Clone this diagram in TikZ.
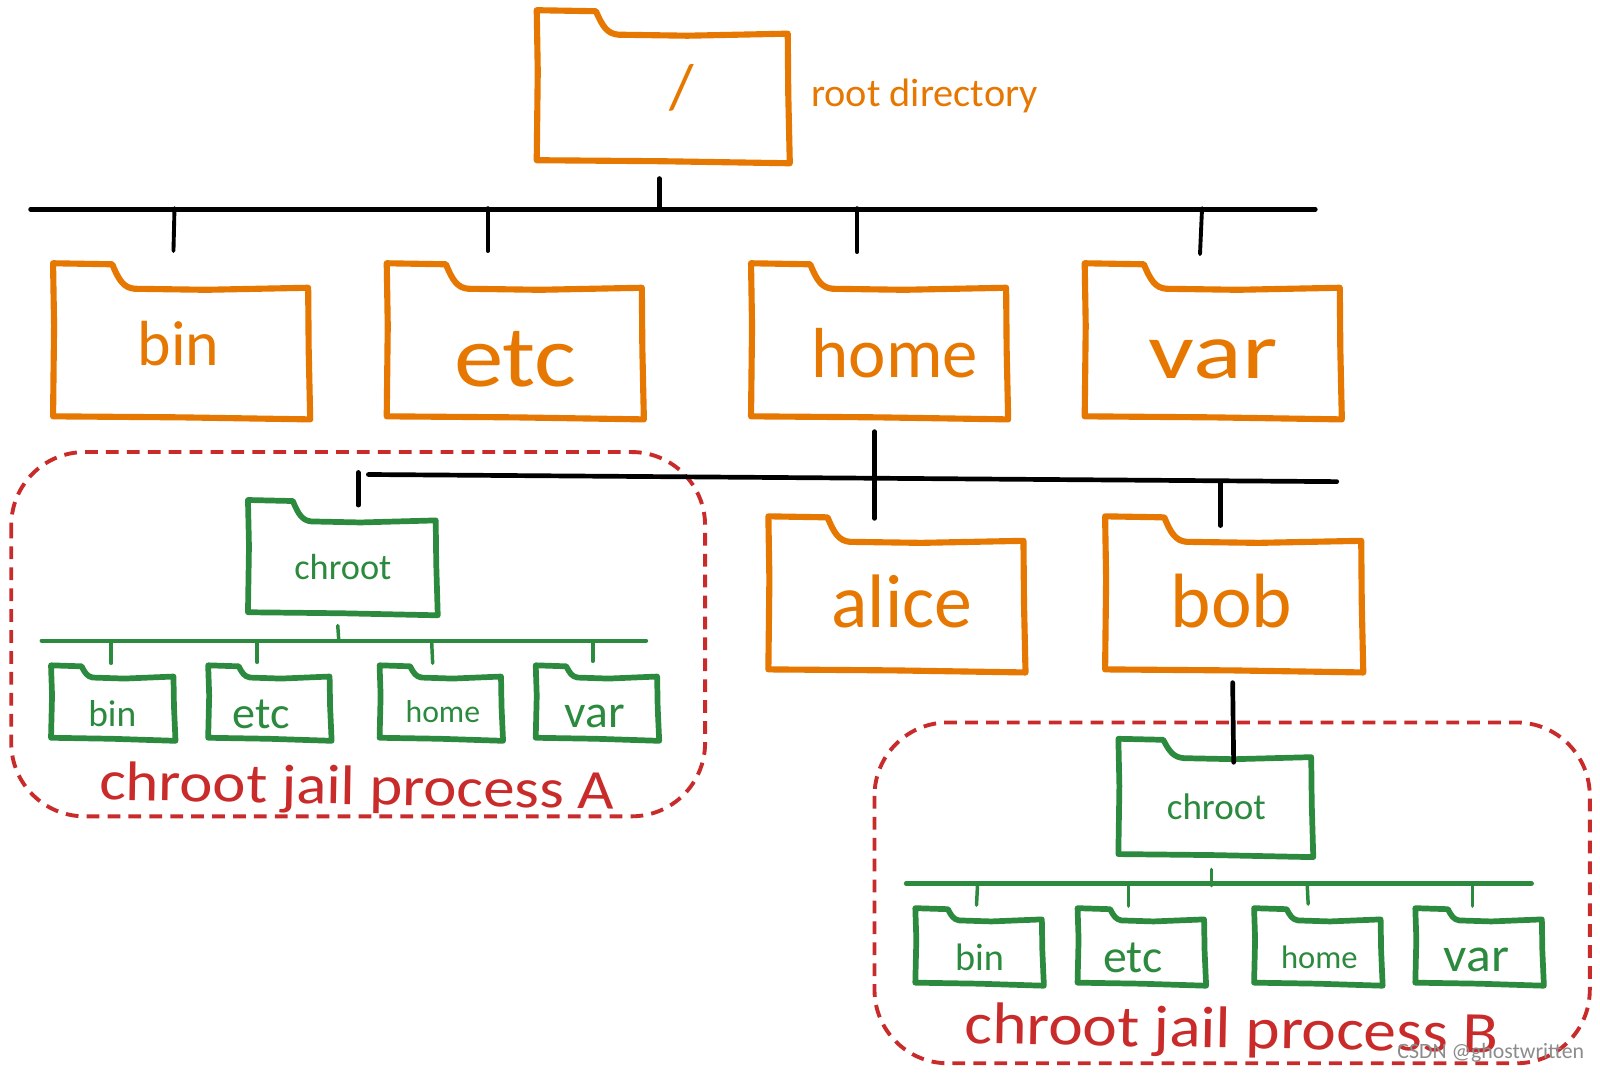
\documentclass[tikz,border=0pt]{standalone}
\usepackage{fontspec}
\usepackage{graphicx}
\setmainfont{Carlito}
\definecolor{foldorange}{HTML}{E67700}
\definecolor{jailgreen}{HTML}{2B8A3E}
\definecolor{jailred}{HTML}{C92A2A}
\tikzset{
  fo/.style={draw=foldorange,line width=6pt,line join=round,line cap=round},
  fg/.style={draw=jailgreen,line width=5.6pt,line join=round,line cap=round},
  bk/.style={draw=black,line width=4.6pt,line cap=round},
  bkthin/.style={draw=black,line width=3.8pt,line cap=round},
  gbus/.style={draw=jailgreen,line width=4.4pt,line cap=round},
  gstub/.style={draw=jailgreen,line width=3.4pt,line cap=round},
  jail/.style={draw=jailred,line width=3.8pt,dash pattern=on 12.5pt off 8pt,rounded corners=72pt},
  lab/.style={inner sep=0pt,outer sep=0pt,anchor=center},
}
% name x0 y0 W H tab slant drop style
\newcommand{\folder}[9]{%
  \coordinate (#1) at (#2,#3);
  \begin{scope}[shift={(#1)}]
    \draw[#9] (0,0) -- (#6,1)
      .. controls ({#6+0.3*#7},{0.7*#8}) and ({#6+0.5*#7},{#8}) .. ({#6+#7},{#8+1})
      -- ({0.6*#4},{#8+2}) -- (#4,#8) -- ({#4+0.5},{0.55*#5}) -- ({#4+2},#5)
      -- ({0.5*#4},{#5-2}) -- (0,{#5-3}) -- (1,{0.4*#5}) -- cycle;
  \end{scope}}
% style name x1 y1 x2 y2
\newcommand{\wire}[6]{%
  \coordinate (#2-a) at (#3,#4);
  \coordinate (#2-b) at (#5,#6);
  \draw[#1] (#2-a) -- (#2-b);}
% name x y width colour text
\newcommand{\txt}[6]{%
  \node[lab,text=#5] (#1) at (#2,#3) {\resizebox{#4pt}{!}{\fontsize{20}{24}\selectfont #6}};}
% name x y width height colour text
\newcommand{\txtwh}[7]{%
  \node[lab,text=#6] (#1) at (#2,#3) {\resizebox{#4pt}{#5pt}{\fontsize{20}{24}\selectfont #7}};}
\begin{document}
\begin{tikzpicture}[x=1pt,y=-1pt]
\useasboundingbox (0,0) rectangle (1568,1052.5);
\fill[white] (0,0) rectangle (1568,1052.5);

% chroot jail outlines
\coordinate (jailA-nw) at (11,443);
\coordinate (jailA-se) at (691,800);
\draw[jail] (jailA-nw) rectangle (jailA-se);
\coordinate (jailB-nw) at (857,708);
\coordinate (jailB-se) at (1558,1042);
\draw[jail] (jailB-nw) rectangle (jailB-se);

% orange folders
\folder{root}{526}{10}{246}{150}{58}{22}{23}{fo}
\folder{bin}{52}{258}{250}{153}{58}{22}{24}{fo}
\folder{etc}{379}{258}{250}{153}{58}{22}{24}{fo}
\folder{home}{736}{258}{250}{153}{58}{22}{24}{fo}
\folder{var}{1063}{258}{250}{153}{58}{22}{24}{fo}
\folder{alice}{753}{506}{250}{153}{58}{22}{24}{fo}
\folder{bob}{1083}{506}{251}{153}{58}{22}{24}{fo}

% green folders, jail A
\folder{chrootA}{243}{490}{184}{113}{44}{18}{20}{fg}
\folder{binA}{50}{652}{120}{74}{30}{11}{11}{fg}
\folder{etcA}{204}{652}{119}{74}{30}{11}{11}{fg}
\folder{homeA}{372}{652}{119}{74}{30}{11}{11}{fg}
\folder{varA}{525}{652}{119}{74}{30}{11}{11}{fg}

% green folders, jail B
\folder{chrootB}{1096}{724}{189}{116}{44}{20}{18}{fg}
\folder{binB}{897}{890}{124}{76}{32}{11}{11}{fg}
\folder{etcB}{1056}{890}{124}{76}{32}{11}{11}{fg}
\folder{homeB}{1229}{890}{124}{76}{32}{11}{11}{fg}
\folder{varB}{1387}{890}{124}{76}{32}{11}{11}{fg}

% black connectors
\wire{bk}{busRoot}{30}{205}{1289}{205}
\wire{bk}{stubRoot}{646}{175}{646}{205}
\wire{bkthin}{stubBin}{171}{204}{170}{246}
\wire{bkthin}{stubEtc}{478}{204}{478}{246}
\wire{bkthin}{stubHome}{840}{204}{840}{247}
\wire{bkthin}{stubVar}{1178}{204}{1176}{249}
\wire{bk}{busHome}{361}{465}{1310}{472}
\wire{bk}{stubChrootA}{351}{463}{351}{495}
\wire{bk}{stubHomeDown}{857}{423}{857}{508}
\wire{bk}{stubBob}{1196}{472}{1196}{515}
\wire{bk}{stubChrootB}{1208}{669}{1209}{747}

% green connectors, jail A
\wire{gbus}{busA}{41}{628}{633}{628}
\wire{gstub}{stubAup}{331}{613}{332}{628}
\wire{gstub}{stubAbin}{109}{628}{109}{650}
\wire{gstub}{stubAetc}{252}{628}{252}{649}
\wire{gstub}{stubAhome}{423}{628}{424}{650}
\wire{gstub}{stubAvar}{581}{628}{581}{648}

% green connectors, jail B
\wire{gbus}{busB}{888}{866}{1501}{866}
\wire{gstub}{stubBup}{1187}{852}{1187}{868}
\wire{gstub}{stubBbin}{958}{866}{957}{887}
\wire{gstub}{stubBetc}{1106}{866}{1106}{888}
\wire{gstub}{stubBhome}{1281}{866}{1282}{886}
\wire{gstub}{stubBvar}{1443}{866}{1443}{888}

% orange labels
\txt{tRoot}{668}{86}{24}{foldorange}{/}
\txtwh{tRootDir}{906}{94}{222}{27}{foldorange}{root directory}
\txt{tBin}{175}{337}{80}{foldorange}{bin}
\txtwh{tEtc}{505}{352}{120}{54}{foldorange}{etc}
\txt{tHome}{877}{346}{163}{foldorange}{home}
\txtwh{tVar}{1189}{352}{126}{38}{foldorange}{var}
\txt{tAlice}{884}{589}{138}{foldorange}{alice}
\txt{tBob}{1207}{589}{119}{foldorange}{bob}

% green labels
\txt{tChrootA}{336}{556}{95}{jailgreen}{chroot}
\txt{tBinA}{110}{699}{47}{jailgreen}{bin}
\txtwh{tEtcA}{256}{700}{56}{28}{jailgreen}{etc}
\txt{tHomeA}{434}{697}{73}{jailgreen}{home}
\txtwh{tVarA}{583}{702}{59}{22}{jailgreen}{var}
\txt{tChrootB}{1192}{791}{97}{jailgreen}{chroot}
\txt{tBinB}{960}{938}{48}{jailgreen}{bin}
\txtwh{tEtcB}{1110}{939}{58}{29}{jailgreen}{etc}
\txt{tHomeB}{1293}{938}{75}{jailgreen}{home}
\txtwh{tVarB}{1447}{941}{64}{23}{jailgreen}{var}

% red captions
\node[lab,text=jailred,rotate=-1] (capA) at (350,774) {\resizebox{505pt}{38pt}{\fontsize{20}{24}\selectfont chroot jail process A}};
\node[lab,text=jailred,rotate=-1] (capB) at (1207,1012) {\resizebox{523pt}{40pt}{\fontsize{20}{24}\selectfont chroot jail process B}};

% watermark
\txt{wm}{1461}{1032}{183}{black!45}{CSDN @ghostwritten}
\end{tikzpicture}
\end{document}
